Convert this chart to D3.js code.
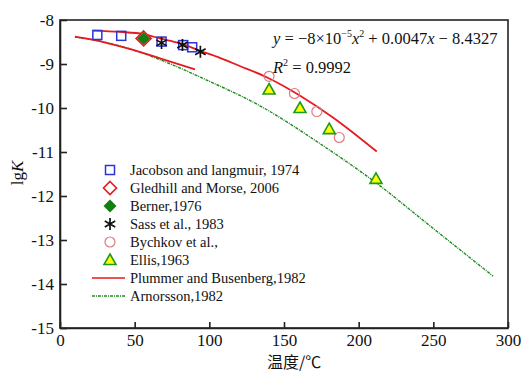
<!DOCTYPE html>
<html><head><meta charset="utf-8">
<script src="https://cdn.jsdelivr.net/npm/d3@7/dist/d3.min.js"></script>
<style>body{margin:0;background:#fff}svg{display:block}text{font-family:'Liberation Serif','Times New Roman',serif}</style>
</head><body>
<svg id="c" width="522" height="373"></svg>
<script>
// ---- data ----
const xTicks = [0, 50, 100, 150, 200, 250, 300];
const yTicks = [-8, -9, -10, -11, -12, -13, -14, -15];
const jacobsonT = [25, 41, 68, 82.5, 88.5];
const jacobsonK = [-8.34, -8.36, -8.49, -8.57, -8.62];
const gledhillT = [56];
const gledhillK = [-8.42];
const bernerT = [56];
const bernerK = [-8.42];
const sassT = [68, 82, 94];
const sassK = [-8.52, -8.57, -8.72];
const bychkovT = [140, 157, 172, 187];
const bychkovK = [-9.28, -9.67, -10.08, -10.67];
const ellisT = [140, 160.7, 180.3, 211.6];
const ellisK = [-9.58, -10.0, -10.48, -11.61];
const fitT = [22.3, 40, 56, 67, 80.4, 93.8, 107, 120, 138.4, 160.8, 183, 212.1];
const fitK = [-8.24, -8.27, -8.32, -8.42, -8.53, -8.70, -8.86, -9.04, -9.30, -9.72, -10.22, -10.99];
const plummerT = [10, 22.3, 44.7, 67, 90.4];
const plummerK = [-8.38, -8.45, -8.64, -8.87, -9.12];
const arnT = [10, 33.5, 55.8, 78.2, 96, 133.9, 174.1, 211.6, 247.8, 290];
const arnK = [-8.39, -8.53, -8.76, -9.06, -9.33, -9.95, -10.81, -11.70, -12.68, -13.82];
const legendLabels = ["Jacobson and langmuir, 1974", "Gledhill and Morse, 2006", "Berner,1976",
  "Sass et al., 1983", "Bychkov et al.,", "Ellis,1963", "Plummer and Busenberg,1982", "Arnorsson,1982"];

const svg = d3.select("#c");
const L = 60, R = 508, T = 20, B = 328;
const x = d3.scaleLinear().domain([0, 300]).range([L, R]);
const y = d3.scaleLinear().domain([-15, -8]).range([B, T]);
const serif = "'Liberation Serif','Times New Roman',serif";
const RED = "#e8191f", GREEN = "#1f8a1f", BLUE = "#2b35d6";

// frame
svg.append("rect").attr("x", L).attr("y", T).attr("width", R - L).attr("height", B - T)
  .attr("fill", "none").attr("stroke", "#222").attr("stroke-width", 1.6);

const xa = svg.append("g").attr("transform", `translate(0,${B})`)
  .call(d3.axisBottom(x).tickValues(xTicks).tickSizeInner(-6).tickSizeOuter(0).tickPadding(9).tickFormat(d3.format("d")));
const ya = svg.append("g").attr("transform", `translate(${L},0)`)
  .call(d3.axisLeft(y).tickValues(yTicks).tickSizeInner(-7).tickSizeOuter(0).tickPadding(6).tickFormat(d => d < 0 ? "-" + Math.abs(d) : d));
[xa, ya].forEach(a => {
  a.attr("font-family", null);
  a.select(".domain").attr("stroke", "#222").attr("stroke-width", 1.6);
  a.selectAll(".tick line").attr("stroke", "#222").attr("stroke-width", 1.6);
  a.selectAll("text").style("font-family", serif).attr("font-size", 17).attr("fill", "#111");
});
xa.selectAll("text").attr("dy", "0.55em");

// axis titles
svg.append("text").attr("x", 267).attr("y", 368).style("font-family", "'Noto Sans CJK SC',sans-serif")
  .attr("font-size", 16).attr("fill", "#111").text("温度/℃");
const yt = svg.append("text").attr("transform", "translate(23,173) rotate(-90)").attr("text-anchor", "middle")
  .style("font-family", serif).attr("font-size", 17).attr("fill", "#111");
yt.append("tspan").text("lg");
yt.append("tspan").attr("font-style", "italic").text("K");

// lines
const line = d3.line().x(d => x(d[0])).y(d => y(d[1])).curve(d3.curveMonotoneX);
const zip = (a, b) => a.map((v, i) => [v, b[i]]);
const gLines = svg.append("g");
gLines.append("path").attr("d", line(zip(arnT, arnK))).attr("fill", "none").attr("stroke", GREEN)
  .attr("stroke-width", 1.4).attr("stroke-dasharray", "3,1,1,1");
gLines.append("path").attr("d", line(zip(plummerT, plummerK))).attr("fill", "none").attr("stroke", RED).attr("stroke-width", 1.8);
gLines.append("path").attr("d", line(zip(fitT, fitK))).attr("fill", "none").attr("stroke", RED).attr("stroke-width", 1.8);

// marker drawers
function square(g, cx, cy) { g.append("rect").attr("x", cx - 4.5).attr("y", cy - 4.5).attr("width", 9).attr("height", 9).attr("fill", "none").attr("stroke", BLUE).attr("stroke-width", 1.5); }
function diamondHollow(g, cx, cy, s) { s = s || 6.5; g.append("path").attr("d", `M${cx},${cy-s}L${cx+s},${cy}L${cx},${cy+s}L${cx-s},${cy}Z`).attr("fill", "#fff").attr("stroke", RED).attr("stroke-width", 1.6); }
function diamondFill(g, cx, cy) { const s = 6.5; g.append("path").attr("d", `M${cx},${cy-s}L${cx+s},${cy}L${cx},${cy+s}L${cx-s},${cy}Z`).attr("fill", "#0f7f10"); }
function star(g, cx, cy) {
  const r = 6;
  const p = `M${cx},${cy-r}L${cx},${cy+r}M${cx-r*0.87},${cy-r*0.5}L${cx+r*0.87},${cy+r*0.5}M${cx-r*0.87},${cy+r*0.5}L${cx+r*0.87},${cy-r*0.5}`;
  g.append("path").attr("d", p).attr("stroke", "#111").attr("stroke-width", 1.7).attr("fill", "none");
}
function circ(g, cx, cy) { g.append("circle").attr("cx", cx).attr("cy", cy).attr("r", 5).attr("fill", "none").attr("stroke", "#e07a80").attr("stroke-width", 1.2); }
function tri(g, cx, cy) { g.append("path").attr("d", `M${cx},${cy-6}L${cx+6},${cy+4.5}L${cx-6},${cy+4.5}Z`).attr("fill", "#ffff00").attr("stroke", "#1f9a1f").attr("stroke-width", 1.6).attr("stroke-linejoin", "miter"); }

const gp = svg.append("g");
jacobsonT.forEach((t, i) => square(gp, x(t), y(jacobsonK[i])));
gledhillT.forEach((t, i) => diamondHollow(gp, x(t), y(gledhillK[i]), 7.5));
bernerT.forEach((t, i) => diamondFill(gp, x(t), y(bernerK[i])));
sassT.forEach((t, i) => star(gp, x(t), y(sassK[i])));
bychkovT.forEach((t, i) => circ(gp, x(t), y(bychkovK[i])));
ellisT.forEach((t, i) => tri(gp, x(t), y(ellisK[i])));

// legend
const lg = svg.append("g");
const markers = [square, diamondHollow, diamondFill, star, circ, tri];
legendLabels.forEach((lab, i) => {
  const cy = 170 + i * 18;
  if (i < 6) markers[i](lg, 110, cy);
  else if (i === 6) lg.append("line").attr("x1", 92).attr("x2", 125).attr("y1", cy).attr("y2", cy).attr("stroke", RED).attr("stroke-width", 1.4);
  else lg.append("line").attr("x1", 92).attr("x2", 125).attr("y1", cy).attr("y2", cy).attr("stroke", GREEN).attr("stroke-width", 1.4).attr("stroke-dasharray", "3,1,1,1");
  lg.append("text").attr("x", 130).attr("y", cy + 5).style("font-family", serif).attr("font-size", 14.5)
    .attr("fill", "#111").text(lab);
});

// equation
const eq = svg.append("text").attr("x", 273).attr("y", 44).style("font-family", serif).attr("font-size", 16.5).attr("fill", "#111");
eq.append("tspan").attr("font-style", "italic").text("y");
eq.append("tspan").text(" = \u22128\u00d710");
eq.append("tspan").attr("font-size", 10).attr("dy", -7).text("\u22125");
eq.append("tspan").attr("font-style", "italic").attr("dy", 7).text("x");
eq.append("tspan").attr("font-size", 10).attr("dy", -7).text("2");
eq.append("tspan").attr("dy", 7).text(" + 0.0047");
eq.append("tspan").attr("font-style", "italic").text("x");
eq.append("tspan").text(" \u2212 8.4327");
const r2 = svg.append("text").attr("x", 273).attr("y", 73).style("font-family", serif).attr("font-size", 16.5).attr("fill", "#111");
r2.append("tspan").attr("font-style", "italic").text("R");
r2.append("tspan").attr("font-size", 10).attr("dy", -7).text("2");
r2.append("tspan").attr("dy", 7).text(" = 0.9992");
</script>
</body></html>
